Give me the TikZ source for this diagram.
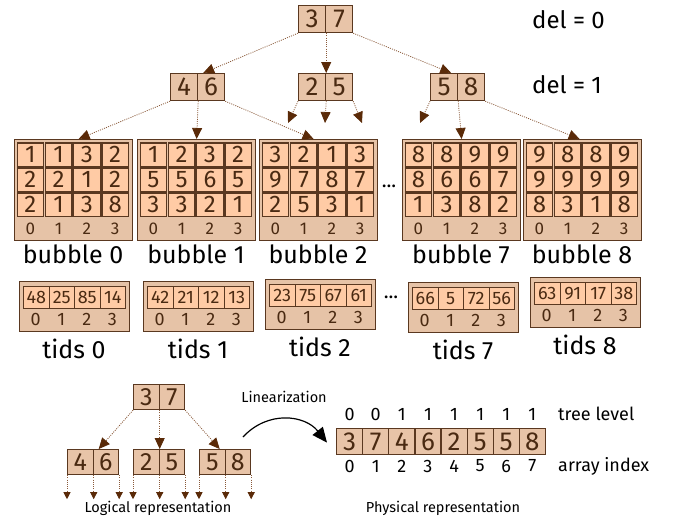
\documentclass[tikz,border=0pt]{standalone}
\usepackage{fontspec}
\setmainfont{Fira Sans}
\usetikzlibrary{arrows.meta,calc}

\definecolor{nodefill}{HTML}{E8C4A8}
\definecolor{cellfill}{HTML}{FFCBA5}
\definecolor{boxfill}{HTML}{E6C3A7}
\definecolor{edgecol}{HTML}{5A3820}
\definecolor{ink}{HTML}{4A2A12}
\definecolor{linkcol}{HTML}{8A5A3A}
\definecolor{tipcol}{HTML}{5A2A08}

\tikzset{
  fs/.style={font=\fontsize{#1}{#1}\selectfont},
  treecell/.style={draw=edgecol, line width=1.2pt, fill=nodefill,
    minimum width=27pt, minimum height=27pt, inner sep=0pt, text=ink, fs=26, anchor=north west},
  smallcell/.style={treecell, minimum width=25.5pt, minimum height=25pt, fs=25},
  bubbox/.style={draw=edgecol, line width=1.2pt, fill=boxfill,
    minimum width=118pt, minimum height=101pt, inner sep=0pt, anchor=north west},
  bcell/.style={draw=edgecol, line width=1.3pt, fill=cellfill,
    minimum width=26.5pt, minimum height=23.5pt, inner sep=0pt, text=ink, fs=24},
  tidbox/.style={draw=edgecol, line width=0.9pt, fill=boxfill,
    minimum width=110pt, minimum height=50pt, inner sep=0pt, anchor=north west},
  tcell/.style={draw=edgecol, line width=1pt, fill=cellfill,
    minimum width=25.5pt, minimum height=22pt, inner sep=0pt, text=ink, fs=18, anchor=north west},
  idx/.style={text=ink, fs=17, inner sep=0pt},
  label/.style={text=black, fs=25, inner sep=0pt},
  caption/.style={text=black, fs=14.5, inner sep=0pt},
  sidelab/.style={text=black, fs=18, inner sep=0pt, anchor=west},
  link/.style={draw=linkcol, line width=0.8pt, dash pattern=on 1pt off 1.2pt,
    -{Triangle[length=11pt,width=10pt,color=tipcol]}},
  smalllink/.style={link, -{Triangle[length=7pt,width=7pt,color=tipcol]}},
}

\begin{document}
\begin{tikzpicture}[x=1pt, y=-1pt]
\useasboundingbox (0,0) rectangle (685,520);

% ---------- upper tree ----------
\node[treecell] (t37a) at (298,5) {3};
\node[treecell] (t37b) at (325,5) {7};
\node[treecell] (t46a) at (170,73) {4};
\node[treecell] (t46b) at (197,73) {6};
\node[treecell] (t25a) at (298,73) {2};
\node[treecell] (t25b) at (325,73) {5};
\node[treecell] (t58a) at (430,73) {5};
\node[treecell] (t58b) at (457,73) {8};

\node[label, fs=24, anchor=west] (del0) at (532,20) {del = 0};
\node[label, fs=24, anchor=west] (del1) at (532,85) {del = 1};

% ---------- bubbles ----------
\foreach \k/\x/\ra/\rb/\rc in {
   0/14/{1,1,3,2}/{2,2,1,2}/{2,1,3,8},
   1/137/{1,2,3,2}/{5,5,6,5}/{3,3,2,1},
   2/259/{3,2,1,3}/{9,7,8,7}/{2,5,3,1},
   7/402/{8,8,9,9}/{8,6,6,7}/{1,3,8,2},
   8/523/{9,8,8,9}/{9,9,9,9}/{8,3,1,8}} {
  \node[bubbox] (bub\k) at (\x,139) {};
  \foreach \v [count=\i from 0] in \ra
    \node[bcell] (bub\k-0-\i) at (\x+16.4+28.25*\i,154.75) {\v};
  \foreach \v [count=\i from 0] in \rb
    \node[bcell] (bub\k-1-\i) at (\x+16.4+28.25*\i,179.75) {\v};
  \foreach \v [count=\i from 0] in \rc
    \node[bcell] (bub\k-2-\i) at (\x+16.4+28.25*\i,204.75) {\v};
  \foreach \i in {0,1,2,3}
    \node[idx] (bubidx\k-\i) at (\x+16.4+28.25*\i,229) {\i};
  \node[label] (bublab\k) at (\x+59,254) {bubble \k};
}
\node[fs=20, inner sep=0pt] (bubdots) at (389,186) {...};

% ---------- tids ----------
\foreach \k/\x/\dy/\vals in {
   0/19/0/{48,25,85,14},
   1/143/0/{42,21,12,13},
   2/265/-2/{23,75,67,61},
   7/408/1/{66,5,72,56},
   8/530/-4/{63,91,17,38}} {
  \node[tidbox] (tid\k) at (\x,281+\dy) {};
  \foreach \v [count=\i from 0] in \vals
    \node[tcell] (tid\k-\i) at (\x+4+25.5*\i,286+\dy) {\v};
  \foreach \i in {0,1,2,3}
    \node[idx, fs=18] (tididx\k-\i) at (\x+16.75+25.5*\i,319+\dy) {\i};
  \node[label] (tidlab\k) at (\x+55,349+\dy) {tids \k};
}
\node[fs=20, inner sep=0pt] (tiddots) at (391,297) {...};

% ---------- upper tree links ----------
\draw[link] (t37a.south west) -- ($(t46a.north east)+(5,0)$);
\draw[link] (t37a.south east) -- (t25a.north east);
\draw[link] (t37b.south east) -- ($(t58a.north east)+(-7,0)$);

\draw[link] (t46a.south west) -- ($(bub0.north)+(5,0)$);
\draw[link] (t46a.south east) -- (bub1.north);
\draw[link] (t46b.south east) -- ($(bub2.north)+(-5,0)$);

\coordinate (f25a) at (288,123);
\coordinate (f25b) at (325,123);
\coordinate (f25c) at (362,123);
\coordinate (f58a) at (420,123);
\draw[link] (t25a.south west) -- (f25a);
\draw[link] (t25a.south east) -- (f25b);
\draw[link] (t25b.south east) -- (f25c);
\draw[link] (t58a.south west) -- (f58a);
\draw[link] (t58a.south east) -- (bub7.north);
\draw[link] (t58b.south east) -- ($(bub8.north)+(-3,0)$);

% ---------- logical representation ----------
\node[smallcell] (l37a) at (133,384) {3};
\node[smallcell] (l37b) at (158.5,384) {7};
\node[smallcell] (l46a) at (67,449) {4};
\node[smallcell] (l46b) at (92.5,449) {6};
\node[smallcell] (l25a) at (133,449) {2};
\node[smallcell] (l25b) at (158.5,449) {5};
\node[smallcell] (l58a) at (199,449) {5};
\node[smallcell] (l58b) at (224.5,449) {8};

\draw[link] (l37a.south west) -- ($(l46a.north east)+(5,0)$);
\draw[link] (l37a.south east) -- (l25a.north east);
\draw[link] (l37b.south east) -- ($(l58a.north east)+(-6,0)$);

\foreach \n in {46,25,58} {
  \coordinate (e\n a) at ($(l\n a.south west)+(0,24)$);
  \coordinate (e\n b) at ($(l\n a.south east)+(0,24)$);
  \coordinate (e\n c) at ($(l\n b.south east)+(0,24)$);
  \draw[smalllink] (l\n a.south west) -- (e\n a);
  \draw[smalllink] (l\n a.south east) -- (e\n b);
  \draw[smalllink] (l\n b.south east) -- (e\n c);
}
\node[caption] (logcap) at (158,508) {Logical representation};

% ---------- physical representation ----------
\foreach \v/\lv [count=\i from 0] in {3/0,7/0,4/1,6/1,2/1,5/1,5/1,8/1} {
  \node[treecell, minimum width=26.1pt, minimum height=26pt] (arr\i) at (336+26.1*\i,428) {\v};
  \node[text=black, fs=18, inner sep=0pt] (lev\i) at (arr\i.north |- 0,414) {\lv};
  \node[text=black, fs=18, inner sep=0pt] (ind\i) at (arr\i.north |- 0,466) {\i};
}
\node[sidelab] (levlab) at (558,414) {tree level};
\node[sidelab] (indlab) at (558,466) {array index};
\node[caption] (phycap) at (443,508) {Physical representation};

\node[caption] (lincap) at (284,397) {Linearization};
\coordinate (linA) at (243,437);
\coordinate (linB) at ($(arr0.west)+(-9,1)$);
\draw[line width=1.2pt, -{Triangle[length=15pt,width=13pt]}]
  (linA) .. controls (268,410) and (305,415) .. (linB);
\end{tikzpicture}
\end{document}
